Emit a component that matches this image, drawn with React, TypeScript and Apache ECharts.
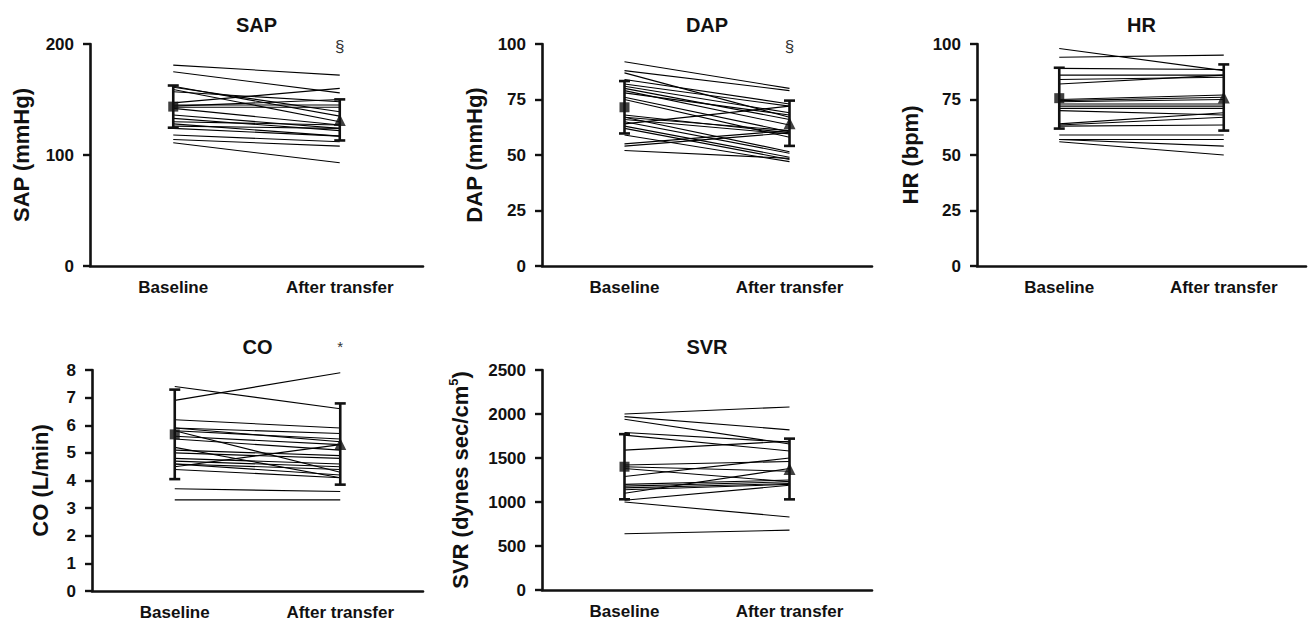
import React, { useEffect, useRef } from "react";
import * as echarts from "echarts";

const categories = ["Baseline", "After transfer"];

const sapBaseline = [181, 175, 162, 161, 159, 157, 147, 145, 144, 143, 142, 136, 133, 130, 128, 126, 124, 118, 114, 111];
const sapAfter = [172, 156, 135, 139, 130, 148, 160, 145, 150, 143, 127, 124, 122, 127, 117, 124, 117, 112, 108, 93];
const sapMean = [143.6, 131.6];
const sapSD = [19, 18.5];

const dapBaseline = [92, 88, 87, 84, 82, 81, 80, 79, 78, 76, 75, 68, 67, 67, 66, 65, 64, 63, 62, 59, 55, 54, 52];
const dapAfter = [80, 79, 67, 73, 72, 69, 66, 63.5, 68, 60.5, 58, 60, 51.5, 61, 59.5, 50.8, 72, 49, 48, 47, 61, 60, 48.5];
const dapMean = [71.5, 64.3];
const dapSD = [11.8, 10.2];

const hrBaseline = [98, 94, 89, 86, 84, 82, 75, 74.5, 74, 73, 72, 71, 70, 64, 63.5, 63, 59, 57, 57, 56];
const hrAfter = [88, 95, 88.5, 86, 85, 86, 77, 76, 75, 73, 72, 71, 68, 69, 67, 63.5, 59, 57, 54, 50];
const hrMean = [75.6, 75.9];
const hrSD = [13.7, 14.9];

const coBaseline = [7.4, 6.9, 6.2, 5.9, 5.9, 5.8, 5.8, 5.6, 5.5, 5.2, 5.1, 5.0, 4.8, 4.7, 4.6, 4.5, 4.6, 4.4, 3.7, 3.3];
const coAfter = [6.6, 7.9, 5.9, 5.7, 5.4, 4.3, 5.5, 5.3, 5.1, 4.1, 4.9, 4.8, 4.6, 4.5, 4.2, 5.3, 4.4, 4.1, 3.6, 3.3];
const coMean = [5.67, 5.32];
const coSD = [1.62, 1.47];

const svrBaseline = [2000, 1970, 1940, 1790, 1760, 1590, 1420, 1400, 1380, 1290, 1200, 1180, 1160, 1140, 1100, 1020, 1000, 640];
const svrAfter = [2080, 1820, 1660, 1680, 1580, 1690, 1460, 1350, 1230, 1500, 1250, 1230, 1210, 1200, 1380, 1190, 830, 680];
const svrMean = [1401, 1375];
const svrSD = [370, 345];

const sapTicks = { min: 0, max: 200, interval: 100 };
const dapTicks = { min: 0, max: 100, interval: 25 };
const hrTicks = { min: 0, max: 100, interval: 25 };
const coTicks = { min: 0, max: 8, interval: 1 };
const svrTicks = { min: 0, max: 2500, interval: 500 };

const FONT = "'Liberation Sans', Arial, Helvetica, sans-serif";
const INK = "#111";

type Panel = {
  title: string;
  yName: string;
  base: number[];
  after: number[];
  mean: number[];
  sd: number[];
  ticks: { min: number; max: number; interval: number };
  grid: { left: number; top: number; width: number; height: number };
  nameGap: number;
  mark?: string;
  rich?: boolean;
};

const panels: Panel[] = [
  { title: "SAP", yName: "SAP (mmHg)", base: sapBaseline, after: sapAfter, mean: sapMean, sd: sapSD, ticks: sapTicks,
    grid: { left: 90, top: 44, width: 333, height: 222 }, nameGap: 58, mark: "§" },
  { title: "DAP", yName: "DAP (mmHg)", base: dapBaseline, after: dapAfter, mean: dapMean, sd: dapSD, ticks: dapTicks,
    grid: { left: 542, top: 44, width: 330, height: 222 }, nameGap: 57, mark: "§" },
  { title: "HR", yName: "HR (bpm)", base: hrBaseline, after: hrAfter, mean: hrMean, sd: hrSD, ticks: hrTicks,
    grid: { left: 977, top: 44, width: 329, height: 222 }, nameGap: 56 },
  { title: "CO", yName: "CO (L/min)", base: coBaseline, after: coAfter, mean: coMean, sd: coSD, ticks: coTicks,
    grid: { left: 92, top: 370, width: 331, height: 221 }, nameGap: 41, mark: "*" },
  { title: "SVR", yName: "{n|SVR (dynes sec/cm}{s|5}{n|)}", base: svrBaseline, after: svrAfter, mean: svrMean, sd: svrSD, ticks: svrTicks,
    grid: { left: 542, top: 370, width: 330, height: 220 }, nameGap: 69, rich: true },
];

function buildOption() {
  const grid: any[] = [];
  const xAxis: any[] = [];
  const yAxis: any[] = [];
  const series: any[] = [];
  const graphic: any[] = [];

  panels.forEach((p, i) => {
    grid.push({ ...p.grid, containLabel: false });
    xAxis.push({
      type: "category",
      gridIndex: i,
      data: categories,
      boundaryGap: true,
      axisLine: { lineStyle: { color: INK, width: 2.6 } },
      axisTick: { alignWithLabel: true, length: 7, lineStyle: { color: INK, width: 2.4 } },
      axisLabel: { color: INK, fontSize: 17, fontWeight: "bold", fontFamily: FONT, margin: 13 },
      splitLine: { show: false },
    });
    yAxis.push({
      type: "value",
      gridIndex: i,
      min: p.ticks.min,
      max: p.ticks.max,
      interval: p.ticks.interval,
      name: p.yName,
      nameLocation: "middle",
      nameGap: p.nameGap,
      nameTextStyle: p.rich
        ? {
            color: INK,
            rich: {
              n: { fontSize: 22, fontWeight: "bold", fontFamily: FONT, color: INK, lineHeight: 26 },
              s: { fontSize: 13, fontWeight: "bold", fontFamily: FONT, color: INK, verticalAlign: "top", lineHeight: 14 },
            },
          }
        : { color: INK, fontSize: 22, fontWeight: "bold", fontFamily: FONT },
      axisLine: { show: true, lineStyle: { color: INK, width: 2.6 } },
      axisTick: { show: true, length: 7, lineStyle: { color: INK, width: 2.4 } },
      axisLabel: {
        color: INK,
        fontSize: 17,
        fontWeight: "bold",
        fontFamily: FONT,
        margin: 16,
        formatter: (v: number) => String(v),
      },
      splitLine: { show: false },
    });

    p.base.forEach((b, k) => {
      series.push({
        type: "line",
        xAxisIndex: i,
        yAxisIndex: i,
        data: [b, p.after[k]],
        symbol: "none",
        silent: true,
        lineStyle: { color: "#000", width: 1.1 },
        z: 2,
      });
    });

    series.push({
      type: "custom",
      xAxisIndex: i,
      yAxisIndex: i,
      silent: true,
      z: 4,
      encode: { x: 0, y: 1 },
      data: [
        [0, p.mean[0], p.sd[0]],
        [1, p.mean[1], p.sd[1]],
      ],
      renderItem: (params: any, api: any) => {
        const x = api.value(0);
        const m = api.value(1);
        const s = api.value(2);
        const top = api.coord([x, m + s]);
        const bot = api.coord([x, m - s]);
        const w = 5.5;
        const style = { stroke: INK, lineWidth: 2.6 };
        return {
          type: "group",
          children: [
            { type: "line", shape: { x1: top[0], y1: top[1], x2: bot[0], y2: bot[1] }, style },
            { type: "line", shape: { x1: top[0] - w, y1: top[1], x2: top[0] + w, y2: top[1] }, style },
            { type: "line", shape: { x1: bot[0] - w, y1: bot[1], x2: bot[0] + w, y2: bot[1] }, style },
          ],
        };
      },
    });

    series.push({
      type: "scatter",
      xAxisIndex: i,
      yAxisIndex: i,
      silent: true,
      z: 5,
      symbol: "rect",
      symbolSize: 10,
      itemStyle: { color: INK },
      data: [[0, p.mean[0]]],
    });
    series.push({
      type: "scatter",
      xAxisIndex: i,
      yAxisIndex: i,
      silent: true,
      z: 5,
      symbol: "triangle",
      symbolSize: 12,
      itemStyle: { color: INK },
      data: [[1, p.mean[1]]],
    });

    const cx = p.grid.left + p.grid.width / 2;
    const titleY = p.grid.top < 200 ? 24.5 : 347;
    graphic.push({
      type: "text",
      x: cx,
      y: titleY,
      style: {
        text: p.title,
        fontSize: 20,
        fontWeight: "bold",
        fontFamily: FONT,
        fill: INK,
        textAlign: "center",
        textVerticalAlign: "middle",
      },
    });
    if (p.mark) {
      graphic.push({
        type: "text",
        x: p.grid.left + p.grid.width * 0.75,
        y: p.grid.top < 200 ? 46 : 346,
        style: {
          text: p.mark,
          fontSize: p.mark === "*" ? 15 : 17,
          fontFamily: FONT,
          fill: "#333",
          textAlign: "center",
          textVerticalAlign: "middle",
        },
      });
    }
  });

  return {
    animation: false,
    backgroundColor: "#fff",
    grid,
    xAxis,
    yAxis,
    series,
    graphic,
  };
}

export default function App() {
  const ref = useRef<HTMLDivElement>(null);
  useEffect(() => {
    if (!ref.current) return;
    const chart = echarts.init(ref.current, undefined, { renderer: "svg" });
    chart.setOption(buildOption() as any);
    return () => chart.dispose();
  }, []);
  return (
    <div
      ref={ref}
      style={{ position: "absolute", left: 0, top: 0, width: 1309, height: 623, background: "#fff" }}
    />
  );
}
